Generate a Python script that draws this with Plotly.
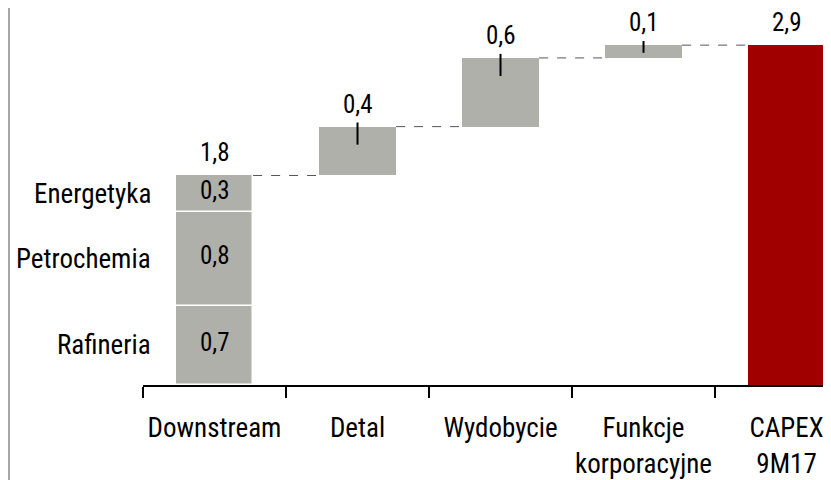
import plotly.graph_objects as go

categories = ["Downstream", "Detal", "Wydobycie", "Funkcje<br>korporacyjne", "CAPEX<br>9M17"]
segment_names = ["Rafineria", "Petrochemia", "Energetyka"]
segment_values = [0.68, 0.81, 0.31]
increment_values = [0.42, 0.59, 0.11]
total_value = 2.92

GREY = "#b0b0ab"
RED = "#a00000"
FONT = "Liberation Sans Narrow, Arial Narrow, Roboto Condensed, DejaVu Sans Condensed, sans-serif"
BAR_W = 0.54

def fmt(v):
    return f"{v:.1f}".replace(".", ",")

fig = go.Figure()
annotations = []
shapes = []

# Downstream stacked bar
cum = 0.0
for name, v in zip(segment_names, segment_values):
    fig.add_trace(go.Bar(
        x=[categories[0]], y=[v], base=[cum], width=BAR_W,
        marker=dict(color=GREY, line=dict(color="white", width=1.5)),
        hoverinfo="skip", showlegend=False))
    annotations.append(dict(x=0, y=cum + v / 2, xref="x", yref="y", text=fmt(v),
                            showarrow=False, xanchor="center", yanchor="middle", yshift=3,
                            font=dict(family=FONT, size=25, color="black")))
    annotations.append(dict(x=-0.43, y=cum + v / 2, xref="x", yref="y", text=name,
                            showarrow=False, xanchor="right", yanchor="middle",
                            font=dict(family=FONT, size=27, color="black")))
    cum += v
downstream_total = cum

# Running totals
tops = [downstream_total]
bases = []
running = downstream_total
for v in increment_values:
    bases.append(running)
    running += v
    tops.append(running)

fig.add_trace(go.Bar(
    x=categories[1:4], y=increment_values, base=bases, width=BAR_W,
    marker=dict(color=GREY, line=dict(width=0)),
    hoverinfo="skip", showlegend=False))
fig.add_trace(go.Bar(
    x=[categories[4]], y=[total_value], base=[0], width=BAR_W,
    marker=dict(color=RED, line=dict(width=0)),
    hoverinfo="skip", showlegend=False))

# value labels above bars
top_labels = [fmt(downstream_total)] + [fmt(v) for v in increment_values] + [fmt(total_value)]
top_levels = tops + [total_value]
for i, (lab, t) in enumerate(zip(top_labels, top_levels)):
    annotations.append(dict(x=i, y=t, xref="x", yref="y", text=lab, showarrow=False,
                            xanchor="center", yanchor="bottom", yshift=6,
                            font=dict(family=FONT, size=25, color="black")))

# connectors (dashed)
for i, lv in enumerate(tops):
    shapes.append(dict(type="line", xref="x", yref="y",
                       x0=i + BAR_W / 2, x1=i + 1 - BAR_W / 2, y0=lv, y1=lv,
                       line=dict(color="#555555", width=1, dash="dash")))

# black marker lines on increment bars
for j, v in enumerate(increment_values):
    i = j + 1
    t = tops[j + 1]
    shapes.append(dict(type="line", xref="x", yref="y",
                       x0=i, x1=i, y0=t + 0.035, y1=t - min(0.155, 0.6 * v),
                       line=dict(color="black", width=2)))

# left border line
shapes.append(dict(type="line", xref="paper", yref="paper",
                   x0=-0.1955, x1=-0.1955, y0=-0.3, y1=1.0,
                   line=dict(color="#a6a6a6", width=3)))

fig.update_layout(
    width=831, height=480,
    margin=dict(l=135, r=8, t=0, b=103),
    paper_bgcolor="white", plot_bgcolor="white",
    barmode="overlay", bargap=0,
    annotations=annotations, shapes=shapes,
    xaxis=dict(type="category", range=[-0.5, 4.311], tickson="boundaries",
               ticks="outside", ticklen=11, tickwidth=2, tickcolor="black",
               showline=True, linecolor="black", linewidth=2,
               showgrid=False, zeroline=False, fixedrange=True,
               tickangle=0, automargin=False,
               tickfont=dict(family=FONT, size=27, color="black"),
               ticklabelstandoff=18),
    yaxis=dict(range=[0, 3.239], visible=False, showgrid=False, zeroline=False,
               fixedrange=True, automargin=False),
)

fig.write_html("out.html", config={"displayModeBar": False})
